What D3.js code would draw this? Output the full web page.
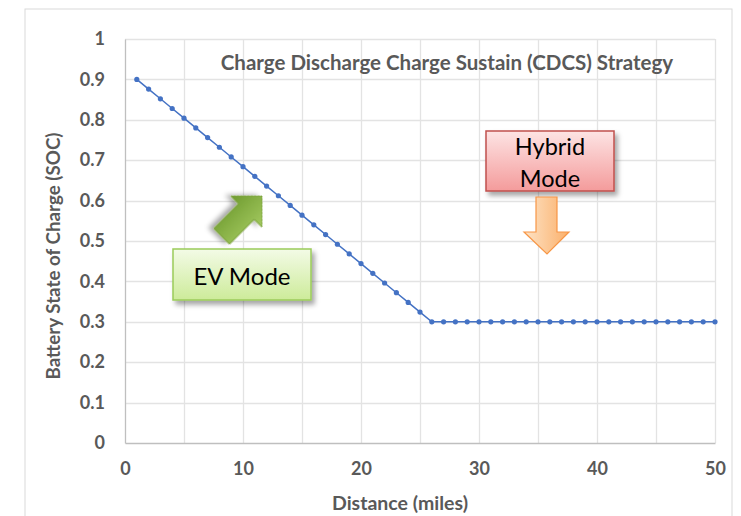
<!DOCTYPE html>
<html>
<head>
<meta charset="utf-8">
<script src="https://cdn.jsdelivr.net/npm/d3@7"></script>
<style>
  body { margin: 0; background: #fff; }
  svg { display: block; font-family: Lato, "Open Sans", sans-serif; }
</style>
</head>
<body>
<div id="chart"></div>
<script>
// distance in miles, battery state of charge
var distance = [1, 2, 3, 4, 5, 6, 7, 8, 9, 10,
  11, 12, 13, 14, 15, 16, 17, 18, 19, 20,
  21, 22, 23, 24, 25, 26, 27, 28, 29, 30,
  31, 32, 33, 34, 35, 36, 37, 38, 39, 40,
  41, 42, 43, 44, 45, 46, 47, 48, 49, 50];
var soc = [0.9, 0.876, 0.852, 0.828, 0.804, 0.78, 0.756, 0.732, 0.708, 0.684,
  0.66, 0.636, 0.612, 0.588, 0.564, 0.54, 0.516, 0.492, 0.468, 0.444,
  0.42, 0.396, 0.372, 0.348, 0.324, 0.3, 0.3, 0.3, 0.3, 0.3,
  0.3, 0.3, 0.3, 0.3, 0.3, 0.3, 0.3, 0.3, 0.3, 0.3,
  0.3, 0.3, 0.3, 0.3, 0.3, 0.3, 0.3, 0.3, 0.3, 0.3];
var x_ticks = [0, 10, 20, 30, 40, 50];
var x_grid = [0, 5, 10, 15, 20, 25, 30, 35, 40, 45, 50];
var y_ticks = [0, 0.1, 0.2, 0.3, 0.4, 0.5, 0.6, 0.7, 0.8, 0.9, 1];

var chart_title = 'Charge Discharge Charge Sustain (CDCS) Strategy';
var x_title = 'Distance (miles)';
var y_title = 'Battery State of Charge (SOC)';

var W = 741, H = 516;
var margin = {top: 39, right: 26, bottom: 73, left: 125};
var pw = W - margin.left - margin.right;
var ph = H - margin.top - margin.bottom;

var svg = d3.select('#chart').append('svg')
    .attr('width', W)
    .attr('height', H);

var defs = svg.append('defs');
var shadow = defs.append('filter').attr('id', 'shadow')
    .attr('x', '-20%').attr('y', '-20%').attr('width', '150%').attr('height', '160%');
shadow.append('feDropShadow')
    .attr('dx', 3).attr('dy', 4).attr('stdDeviation', 2.5)
    .attr('flood-color', '#000').attr('flood-opacity', 0.35);

function grad(id, c1, c2, vertical){
  var g = defs.append('linearGradient').attr('id', id)
      .attr('x1', 0).attr('y1', 0)
      .attr('x2', vertical ? 0 : 1).attr('y2', vertical ? 1 : 0);
  g.append('stop').attr('offset', '0%').attr('stop-color', c1);
  g.append('stop').attr('offset', '100%').attr('stop-color', c2);
}
grad('g-ev', '#f3fbe6', '#cdeb9a', true);
grad('g-hy', '#fde4e4', '#f49b9b', true);
grad('g-green', '#a3c95f', '#6f9b30', true);
grad('g-orange', '#fde3c6', '#fbb06b', false);

// outer frame
svg.append('rect')
    .attr('x', 25).attr('y', 9)
    .attr('width', 707).attr('height', 520)
    .attr('fill', 'none')
    .attr('stroke', '#d9d9d9')
    .attr('stroke-width', 1);

var g = svg.append('g')
    .attr('transform', 'translate(' + margin.left + ',' + margin.top + ')');

var x = d3.scaleLinear().domain([0, 50]).range([0, pw]);
var y = d3.scaleLinear().domain([0, 1]).range([ph, 0]);

// gridlines
g.append('g').selectAll('line').data(y_ticks.slice(1)).enter().append('line')
    .attr('x1', 0).attr('x2', pw)
    .attr('y1', function(d){ return Math.round(y(d)) + 0.5; })
    .attr('y2', function(d){ return Math.round(y(d)) + 0.5; })
    .attr('stroke', '#e3e3e3').attr('stroke-width', 1.3);
g.append('g').selectAll('line').data(x_grid.slice(1)).enter().append('line')
    .attr('y1', 0).attr('y2', ph)
    .attr('x1', function(d){ return Math.round(x(d)) + 0.5; })
    .attr('x2', function(d){ return Math.round(x(d)) + 0.5; })
    .attr('stroke', '#e3e3e3').attr('stroke-width', 1.3);

// axes
var xAxis = g.append('g')
    .attr('transform', 'translate(0,' + ph + ')')
    .call(d3.axisBottom(x).tickValues(x_ticks).tickSize(0).tickPadding(19).tickFormat(d3.format('d')));
var yAxis = g.append('g')
    .call(d3.axisLeft(y).tickValues(y_ticks).tickSize(0).tickPadding(20).tickFormat(function(d){ return String(+d.toFixed(1)); }));
[xAxis, yAxis].forEach(function(a){
  a.select('.domain').attr('stroke', '#bfbfbf').attr('stroke-width', 1.3);
  a.selectAll('text')
      .attr('fill', '#595959')
      .style('font-size', '18px')
      .style('font-weight', 'bold')
      .style('font-family', 'Lato, sans-serif');
});

// series
var pts = distance.map(function(d, i){ return [d, soc[i]]; });
g.append('path')
    .datum(pts)
    .attr('fill', 'none')
    .attr('stroke', '#4472c4')
    .attr('stroke-width', 1.5)
    .attr('d', d3.line().x(function(d){ return x(d[0]); }).y(function(d){ return y(d[1]); }));
g.selectAll('circle').data(pts).enter().append('circle')
    .attr('cx', function(d){ return x(d[0]); })
    .attr('cy', function(d){ return y(d[1]); })
    .attr('r', 2.6)
    .attr('fill', '#4472c4');

// titles
svg.append('text')
    .attr('x', 447).attr('y', 62)
    .attr('text-anchor', 'middle')
    .attr('dominant-baseline', 'central')
    .attr('fill', '#595959')
    .style('font-size', '20.5px')
    .style('font-weight', 'bold')
    .text(chart_title);
svg.append('text')
    .attr('x', 400).attr('y', 502)
    .attr('text-anchor', 'middle')
    .attr('dominant-baseline', 'central')
    .attr('fill', '#595959')
    .style('font-size', '19.5px')
    .style('font-weight', 'bold')
    .text(x_title);
svg.append('text')
    .attr('transform', 'translate(52,256) rotate(-90)')
    .attr('text-anchor', 'middle')
    .attr('dominant-baseline', 'central')
    .attr('fill', '#595959')
    .style('font-size', '18.8px')
    .style('font-weight', 'bold')
    .text(y_title);

// green arrow (EV mode), drawn along +x then rotated
var ev_arrow = svg.append('g')
    .attr('transform', 'translate(262,196) rotate(135)');
ev_arrow.append('path')
    .attr('d', 'M0,0 L22,-22 L22,-11 L57,-11 L57,11 L22,11 L22,22 Z')
    .attr('fill', 'url(#g-green)')
    .attr('stroke', '#7aa33a')
    .attr('stroke-width', 1)
    .attr('filter', 'url(#shadow)');

// EV mode box
svg.append('rect')
    .attr('x', 173).attr('y', 249)
    .attr('width', 138).attr('height', 51)
    .attr('fill', 'url(#g-ev)')
    .attr('stroke', '#9bcb5a')
    .attr('stroke-width', 1.5)
    .attr('filter', 'url(#shadow)');
svg.append('text')
    .attr('x', 242).attr('y', 275)
    .attr('text-anchor', 'middle')
    .attr('dominant-baseline', 'central')
    .attr('fill', '#000')
    .style('font-size', '24px')
    .text('EV Mode');

// Hybrid mode box
svg.append('rect')
    .attr('x', 486).attr('y', 131)
    .attr('width', 128).attr('height', 60)
    .attr('fill', 'url(#g-hy)')
    .attr('stroke', '#c0504d')
    .attr('stroke-width', 1.5)
    .attr('filter', 'url(#shadow)');
svg.append('text')
    .attr('x', 550).attr('y', 146)
    .attr('text-anchor', 'middle')
    .attr('dominant-baseline', 'central')
    .style('font-size', '23.5px')
    .text('Hybrid');
svg.append('text')
    .attr('x', 550).attr('y', 178)
    .attr('text-anchor', 'middle')
    .attr('dominant-baseline', 'central')
    .style('font-size', '23.5px')
    .text('Mode');

// orange down arrow
svg.append('path')
    .attr('d', 'M536,197 L557,197 L557,232 L569,232 L547,254 L524,232 L536,232 Z')
    .attr('fill', 'url(#g-orange)')
    .attr('stroke', '#f79646')
    .attr('stroke-width', 1.2);
</script>
</body>
</html>
